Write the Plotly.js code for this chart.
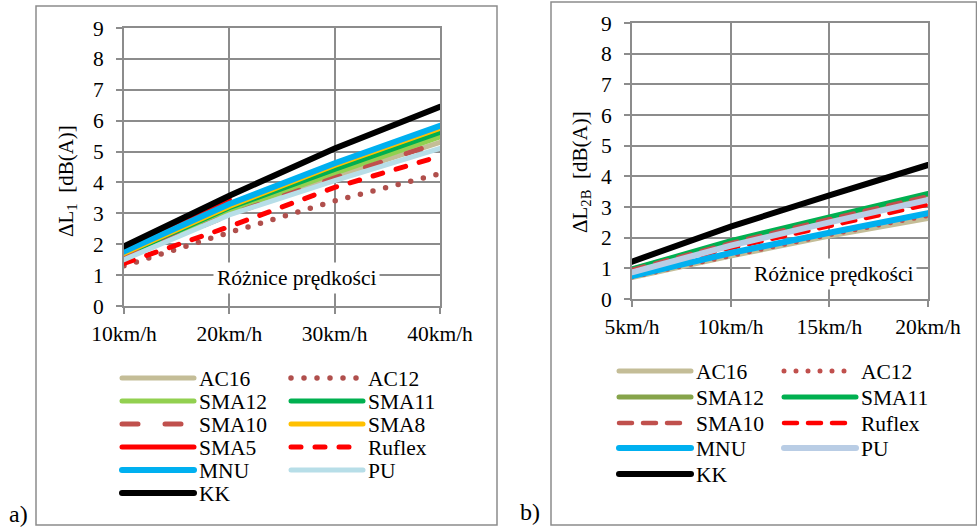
<!DOCTYPE html>
<html>
<head>
<meta charset="utf-8">
<script src="https://cdn.plot.ly/plotly-3.0.1.min.js"></script>
<style>
html,body{margin:0;padding:0;background:#fff;}
#chart{width:977px;height:529px;}
.js-line{stroke-linecap:round;}
</style>
</head>
<body>
<div id="chart"></div>
<script>
// ---------- data: panel a) ----------
const catsA = ['10km/h', '20km/h', '30km/h', '40km/h'];
const AC16_a   = [1.55, 3.00, 4.20, 5.30];
const AC12_a   = [1.30, 2.38, 3.40, 4.28];
const SMA12_a  = [1.60, 3.08, 4.30, 5.48];
const SMA11_a  = [1.65, 3.18, 4.42, 5.62];
const SMA10_a  = [1.55, 2.95, 4.15, 5.30];
const SMA8_a   = [1.70, 3.22, 4.55, 5.75];
const SMA5_a   = [1.85, 3.45, null, null];
const Ruflex_a = [1.38, 2.57, 3.84, 4.85];
const MNU_a    = [1.76, 3.30, 4.62, 5.83];
const PU_a     = [1.50, 2.95, 4.06, 5.10];
const KK_a     = [1.93, 3.57, 5.10, 6.45];

// ---------- data: panel b) ----------
const catsB = ['5km/h', '10km/h', '15km/h', '20km/h'];
const AC16_b   = [0.70, 1.40, 2.05, 2.63];
const AC12_b   = [0.72, 1.43, 2.10, 2.72];
const SMA12_b  = [0.97, 1.86, 2.64, 3.40];
const SMA11_b  = [0.98, 1.90, 2.68, 3.44];
const SMA10_b  = [0.95, 1.82, 2.60, 3.35];
const Ruflex_b = [0.90, 1.66, 2.38, 3.08];
const MNU_b    = [0.75, 1.50, 2.16, 2.80];
const PU_b     = [0.87, 1.74, 2.50, 3.23];
const KK_b     = [1.22, 2.36, 3.38, 4.37];

const yTicks = [0, 1, 2, 3, 4, 5, 6, 7, 8, 9];

// ---------- styling ----------
const FONT = 'Liberation Serif';
const FS = 21.5;
const GRID = '#8c8c8c';
const W = 977, H = 529;
const px = v => v / W;
const py = v => 1 - v / H;

const seriesA = [
  {name: 'AC16',   y: AC16_a,   color: '#c4bd97', width: 5},
  {name: 'AC12',   y: AC12_a,   color: '#b04f4c', width: 5.5, dash: '0px,13px'},
  {name: 'SMA12',  y: SMA12_a,  color: '#92d050', width: 5},
  {name: 'SMA11',  y: SMA11_a,  color: '#00b050', width: 5},
  {name: 'SMA10',  y: SMA10_a,  color: '#c0504d', width: 5, dash: '16px,27px'},
  {name: 'SMA8',   y: SMA8_a,   color: '#ffc000', width: 5},
  {name: 'SMA5',   y: SMA5_a,   color: '#ff0000', width: 5},
  {name: 'Ruflex', y: Ruflex_a, color: '#ff0000', width: 5, dash: '10px,14px'},
  {name: 'MNU',    y: MNU_a,    color: '#00b0f0', width: 6},
  {name: 'PU',     y: PU_a,     color: '#b7dee8', width: 5},
  {name: 'KK',     y: KK_a,     color: '#000000', width: 6}
];
const seriesB = [
  {name: 'AC16',   y: AC16_b,   color: '#c4bd97', width: 5},
  {name: 'AC12',   y: AC12_b,   color: '#c0504d', width: 5, dash: '0px,12px'},
  {name: 'SMA12',  y: SMA12_b,  color: '#86a44a', width: 5},
  {name: 'SMA11',  y: SMA11_b,  color: '#00b050', width: 5},
  {name: 'SMA10',  y: SMA10_b,  color: '#c0504d', width: 4.5, dash: '13px,11px'},
  {name: 'Ruflex', y: Ruflex_b, color: '#ff0000', width: 4.5, dash: '13px,11px'},
  {name: 'MNU',    y: MNU_b,    color: '#00b0f0', width: 6},
  {name: 'PU',     y: PU_b,     color: '#b9cde5', width: 6},
  {name: 'KK',     y: KK_b,     color: '#000000', width: 6}
];

// legend grid positions (col, row)
const legPosA = {AC16:[0,0], AC12:[1,0], SMA12:[0,1], SMA11:[1,1], SMA10:[0,2], SMA8:[1,2],
                 SMA5:[0,3], Ruflex:[1,3], MNU:[0,4], PU:[1,4], KK:[0,5]};
const legPosB = {AC16:[0,0], AC12:[1,0], SMA12:[0,1], SMA11:[1,1], SMA10:[0,2], Ruflex:[1,2],
                 MNU:[0,3], PU:[1,3], KK:[0,4]};
const legColXA = [122, 291], legRowYA = [378, 401, 424, 447, 470, 493];
const legColXB = [619, 784], legRowYB = [371, 397, 423, 448, 474];

const traces = [];
const layout = {
  width: W, height: H,
  margin: {l: 0, r: 0, t: 0, b: 0},
  paper_bgcolor: '#ffffff', plot_bgcolor: '#ffffff',
  font: {family: FONT, size: FS, color: '#000'},
  showlegend: true,
  annotations: [], shapes: []
};

let legIdx = 0;
function addLegend(col, row, colX, rowY) {
  legIdx++;
  const key = legIdx === 1 ? 'legend' : 'legend' + legIdx;
  layout[key] = {
    x: px(colX[col] - 5), y: py(rowY[row]),
    xanchor: 'left', yanchor: 'middle',
    xref: 'paper', yref: 'paper',
    bgcolor: 'rgba(0,0,0,0)', borderwidth: 0,
    itemwidth: 72, itemclick: false, itemdoubleclick: false,
    font: {family: FONT, size: FS, color: '#000'}
  };
  return key;
}

seriesA.forEach(s => {
  const p = legPosA[s.name];
  traces.push({
    type: 'scatter', mode: 'lines', x: catsA, y: s.y, name: s.name,
    xaxis: 'x', yaxis: 'y',
    line: {color: s.color, width: s.width, dash: s.dash || 'solid'},
    legend: addLegend(p[0], p[1], legColXA, legRowYA),
    hoverinfo: 'skip'
  });
});
seriesB.forEach(s => {
  const p = legPosB[s.name];
  traces.push({
    type: 'scatter', mode: 'lines', x: catsB, y: s.y, name: s.name,
    xaxis: 'x2', yaxis: 'y2',
    line: {color: s.color, width: s.width, dash: s.dash || 'solid'},
    legend: addLegend(p[0], p[1], legColXB, legRowYB),
    hoverinfo: 'skip'
  });
});

function xAxis(domain, cats, anchor) {
  return {
    domain: domain, anchor: anchor, type: 'category',
    categoryorder: 'array', categoryarray: cats, range: [0, cats.length - 1],
    showgrid: true, gridcolor: GRID, gridwidth: 2,
    showline: true, linecolor: GRID, linewidth: 2, mirror: true,
    ticks: 'outside', ticklen: 6, tickcolor: GRID, tickwidth: 2,
    ticklabelstandoff: 1,
    tickfont: {family: FONT, size: FS, color: '#000'},
    fixedrange: true, zeroline: false
  };
}
function yAxis(domain, anchor) {
  return {
    domain: domain, anchor: anchor, range: [0, 9],
    tickvals: yTicks, ticktext: yTicks.map(String),
    showgrid: true, gridcolor: GRID, gridwidth: 2,
    showline: true, linecolor: GRID, linewidth: 2, mirror: true,
    ticks: 'outside', ticklen: 6, tickcolor: GRID, tickwidth: 2,
    ticklabelstandoff: 8,
    tickfont: {family: FONT, size: FS, color: '#000'},
    fixedrange: true, zeroline: false
  };
}
layout.xaxis  = xAxis([px(124), px(440)], catsA, 'y');
layout.yaxis  = yAxis([py(306), py(28)], 'x');
layout.xaxis2 = xAxis([px(632), px(928)], catsB, 'y2');
layout.yaxis2 = yAxis([py(299), py(23)], 'x2');

// panel frames
layout.shapes.push(
  {type: 'rect', xref: 'paper', yref: 'paper', x0: px(36), x1: px(497), y0: py(525), y1: py(6),
   line: {color: '#8c8c8c', width: 1.5}, layer: 'below'},
  {type: 'rect', xref: 'paper', yref: 'paper', x0: px(551), x1: px(976.5), y0: py(525), y1: py(2),
   line: {color: '#8c8c8c', width: 1.5}, layer: 'below'}
);

// texts
layout.annotations.push(
  {text: 'Różnice prędkości', xref: 'paper', yref: 'paper', x: px(296), y: py(278),
   showarrow: false, bgcolor: '#ffffff', font: {family: FONT, size: FS, color: '#000'},
   xanchor: 'center', yanchor: 'middle', borderpad: 3},
  {text: 'Różnice prędkości', xref: 'paper', yref: 'paper', x: px(833), y: py(274),
   showarrow: false, bgcolor: '#ffffff', font: {family: FONT, size: FS, color: '#000'},
   xanchor: 'center', yanchor: 'middle', borderpad: 3},
  {text: 'ΔL<sub>1</sub>  [dB(A)]', xref: 'paper', yref: 'paper', x: px(67), y: py(181),
   textangle: -90, showarrow: false, font: {family: FONT, size: 21, color: '#000'},
   xanchor: 'center', yanchor: 'middle'},
  {text: 'ΔL<sub>2B</sub>  [dB(A)]', xref: 'paper', yref: 'paper', x: px(581), y: py(172),
   textangle: -90, showarrow: false, font: {family: FONT, size: 21, color: '#000'},
   xanchor: 'center', yanchor: 'middle'},
  {text: 'a)', xref: 'paper', yref: 'paper', x: px(18), y: py(514),
   showarrow: false, font: {family: FONT, size: 24, color: '#000'},
   xanchor: 'center', yanchor: 'middle'},
  {text: 'b)', xref: 'paper', yref: 'paper', x: px(530), y: py(512),
   showarrow: false, font: {family: FONT, size: 24, color: '#000'},
   xanchor: 'center', yanchor: 'middle'}
);

Plotly.newPlot('chart', traces, layout, {staticPlot: true, displayModeBar: false});
</script>
</body>
</html>
